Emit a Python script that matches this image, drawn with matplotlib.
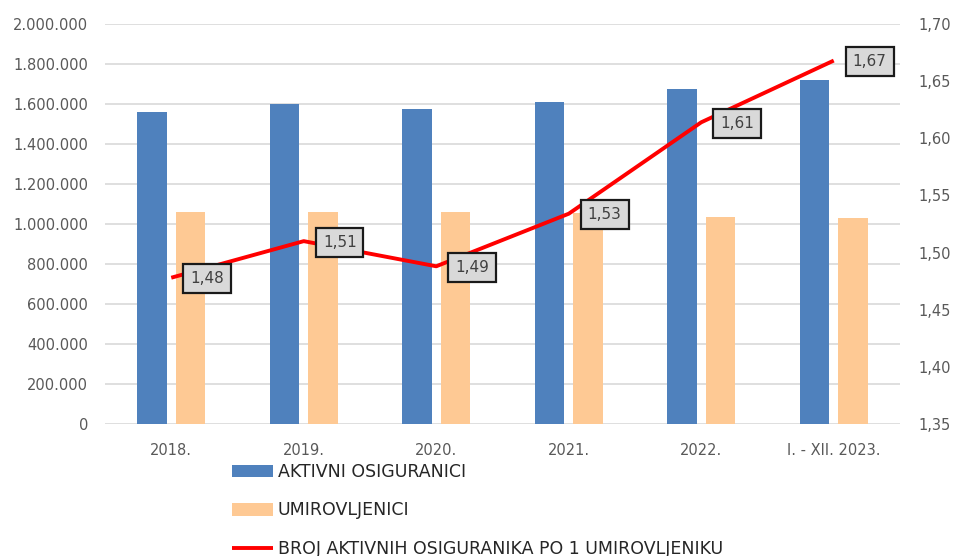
import matplotlib
matplotlib.use("Agg")
import matplotlib.pyplot as plt
from matplotlib.ticker import FuncFormatter, MultipleLocator
import numpy as np

# data
years = ["2018.", "2019.", "2020.", "2021.", "2022.", "I. - XII. 2023."]
aktivni = [1560000, 1598000, 1573000, 1608000, 1675000, 1720000]
umirovljenici = [1058000, 1058000, 1058000, 1053000, 1037000, 1032000]
omjer = [1.478, 1.510, 1.488, 1.534, 1.614, 1.668]

BLUE = "#4f81bd"
ORANGE = "#fec994"
RED = "#ff0000"
GRID = "#d9d9d9"
TICK = "#595959"

plt.rcParams["font.family"] = ["DejaVu Sans"]

fig = plt.figure(figsize=(9.54, 5.56), dpi=100)
ax = fig.add_axes([105 / 954, 1 - 424 / 556, 795 / 954, 400 / 556])

x = np.arange(len(years))
w = 0.22
ax.bar(x - 0.145, aktivni, w, color=BLUE, label="AKTIVNI OSIGURANICI", zorder=2)
ax.bar(x + 0.145, umirovljenici, w, color=ORANGE, label="UMIROVLJENICI", zorder=2)

ax.set_xlim(-0.5, len(years) - 0.5)
ax.set_ylim(0, 2000000)
ax.yaxis.set_major_locator(MultipleLocator(200000))
ax.yaxis.set_major_formatter(FuncFormatter(lambda v, p: f"{int(v):,}".replace(",", ".")))
ax.set_xticks(x)
ax.set_xticklabels(years)
ax.grid(axis="y", color=GRID, linewidth=1.2, zorder=0)
ax.set_axisbelow(True)
for s in ax.spines.values():
    s.set_visible(False)
ax.tick_params(axis="both", length=0, colors=TICK, labelsize=10.5)
ax.tick_params(axis="y", pad=12)
ax.tick_params(axis="x", pad=14)

# ratio on the secondary axis
ax2 = ax.twinx()
ax2.plot(x, omjer, color=RED, linewidth=2.8, label="BROJ AKTIVNIH OSIGURANIKA PO 1 UMIROVLJENIKU",
         solid_capstyle="butt", zorder=3)
ax2.set_ylim(1.35, 1.70)
ax2.yaxis.set_major_locator(MultipleLocator(0.05))
ax2.yaxis.set_major_formatter(FuncFormatter(lambda v, p: f"{v:.2f}".replace(".", ",")))
for s in ax2.spines.values():
    s.set_visible(False)
ax2.tick_params(axis="y", length=0, colors=TICK, labelsize=10.5, pad=13)

for xi, v in zip(x, omjer):
    ax2.annotate(f"{v:.2f}".replace(".", ","), (xi, v), xytext=(36, -1), textcoords="offset pixels",
                 ha="center", va="center", fontsize=11, color="#404040", zorder=5,
                 bbox=dict(boxstyle="square,pad=0.45", facecolor="#d9d9d9", edgecolor="#1a1a1a",
                           linewidth=1.6))

h1, l1 = ax.get_legend_handles_labels()
h2, l2 = ax2.get_legend_handles_labels()
fig.legend(h1 + h2, l1 + l2, loc="upper left", bbox_to_anchor=(225 / 954, 1 - 456 / 556),
           frameon=False, fontsize=12.5, handlelength=2.35, handleheight=0.75, handletextpad=0.3,
           labelspacing=1.18, labelcolor="#262626", borderaxespad=0)

fig.savefig("out.png", dpi=100)
